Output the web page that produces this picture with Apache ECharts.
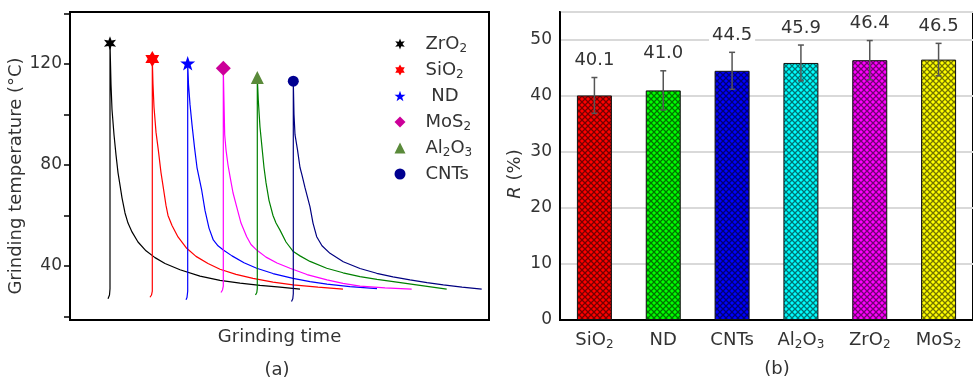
<!DOCTYPE html>
<html><head><meta charset="utf-8">
<script src="https://cdn.jsdelivr.net/npm/echarts@6/dist/echarts.min.js"></script>
<style>html,body{margin:0;padding:0;background:#fff}#c{width:973px;height:383px}</style>
</head><body><div id="c"></div>
<script>
// ---------- Panel (a): grinding temperature vs grinding time (time in arbitrary units) ----------
const curveNames = ['ZrO2', 'SiO2', 'ND', 'MoS2', 'Al2O3', 'CNTs'];
const tZrO2 = [[38,27],[39.5,28.5],[40,31],[40,128.2],[41,112],[42,102],[44,92],[46,84],[48,77],[50,72],[52,67],[55,61],[58,57],[62,53.5],[68,49.5],[76,46],[85,43.3],[95,41],[110,38.5],[130,36],[150,34.3],[170,33.2],[190,32.3],[210,31.6],[230,30.8]];
const tSiO2 = [[80,27.6],[81.5,28.5],[82.3,30],[82.3,122],[83,112],[84,103],[86,93],[88.3,86],[91,77],[93.3,71],[96,64],[98,60],[102,56],[108,51.5],[116.7,47],[126,43.8],[138,41],[150,38.7],[166,36.7],[183,35.1],[203,33.6],[223,32.5],[248,31.6],[273,30.8]];
const tND = [[116,26.6],[117,27.5],[117.7,30],[117.7,120.3],[118.5,112],[120,104],[122,96],[124.5,87],[127,79],[131.7,70],[135,62],[139,55],[143.3,50.3],[148,48],[153.3,46.3],[162,44],[174,41.3],[186.7,39.1],[203,37],[223,35.1],[240,33.8],[257,32.8],[280,31.8],[307,31]];
const tMoS2 = [[151,29.5],[152.5,30.5],[153.3,32],[153.3,118.3],[154,105],[154.7,92],[156,86],[158,80],[160,75.5],[163,69],[166.7,63.4],[171,57],[176.7,51.6],[181,48.5],[186.7,46.3],[196,43.5],[207,41.2],[220,39.1],[237,36.6],[257,34.5],[273,33.1],[290,32],[315,31.3],[341.7,30.8]];
const tAl2O3 = [[185.5,28.5],[186.8,29.5],[187.3,31],[187.3,114.7],[188.3,105.6],[190,95],[192,87],[194,79],[196,73],[199,66],[203,60],[206,57],[210,54.2],[216,49.5],[223.3,45.7],[230,44],[240,41.8],[256.7,39.1],[273,37.3],[290,35.8],[307,34.7],[323.3,33.8],[350,32.3],[376.7,30.8]];
const tCNTs = [[221.5,25.9],[222.8,27],[223.3,29],[223.3,113.2],[224,100],[225,92],[227.5,86],[230,79],[232,76],[235,71],[240,63.4],[243,57],[246.7,51.6],[252,48],[260,45],[273.3,41.7],[290,39],[306.7,37.1],[323,35.7],[340,34.5],[357,33.4],[373.3,32.5],[392,31.6],[411.7,30.8]];
const curveData = [tZrO2, tSiO2, tND, tMoS2, tAl2O3, tCNTs];
const tempTicks = [20, 40, 60, 80, 100, 120, 140];
const tempLabels = [40, 80, 120];

// ---------- Panel (b): R (%) bars ----------
const barCats = ['SiO2', 'ND', 'CNTs', 'Al2O3', 'ZrO2', 'MoS2'];
const barVals = [40.1, 41.0, 44.5, 45.9, 46.4, 46.5];
const barErr = [3.2, 3.5, 3.3, 3.2, 3.5, 2.9];

// ---------- styles ----------
const FONT = 'DejaVu Sans';
const TXT = '#333';
const lineColors = ['#000000', '#ff0000', '#0000ff', '#ff00ff', '#008000', '#000080'];
const markColors = ['#000000', '#ff0000', '#0000ff', '#cc0099', '#5a8a3a', '#000090'];
const barColors = ['#ff0000', '#00ff00', '#0000ff', '#00ffff', '#ff00ff', '#ffff00'];

function starPath(n, rin) {
  let p = [];
  for (let k = 0; k < 2 * n; k++) {
    const a = -Math.PI / 2 + k * Math.PI / n;
    const r = k % 2 ? rin : 1;
    p.push((k ? 'L' : 'M') + (r * Math.cos(a)).toFixed(4) + ' ' + (r * Math.sin(a)).toFixed(4));
  }
  return 'path://' + p.join(' ') + ' Z';
}
const markSymbols = [starPath(6, 0.45), starPath(6, 0.58), starPath(5, 0.4), 'diamond', 'triangle', 'circle'];
const markSizes = [14, 16, 15, 15, 13, 11];

function hatch(color) {
  const c = document.createElement('canvas');
  c.width = c.height = 6;
  const g = c.getContext('2d');
  g.fillStyle = color; g.fillRect(0, 0, 6, 6);
  g.strokeStyle = 'rgba(0,0,0,0.55)'; g.lineWidth = 1.3;
  g.beginPath(); g.moveTo(-1, -1); g.lineTo(7, 7); g.moveTo(7, -1); g.lineTo(-1, 7); g.stroke();
  return { image: c, repeat: 'repeat' };
}
const subFmt = s => s.replace(/(\d)/g, '{s|$1}');
const richSub = { s: { fontSize: 12, fontFamily: FONT, color: TXT, lineHeight: 12, verticalAlign: 'bottom' } };

const series = [];
curveData.forEach((d, i) => {
  series.push({
    name: curveNames[i] + '_curve', type: 'line', xAxisIndex: 0, yAxisIndex: 0,
    data: d, symbol: 'none', showSymbol: false,
    lineStyle: { color: lineColors[i], width: 1.2 }, z: 2, silent: true
  });
});
curveData.forEach((d, i) => {
  let peak = d[0];
  d.forEach(p => { if (p[1] > peak[1]) peak = p; });
  series.push({
    name: curveNames[i], type: 'scatter', xAxisIndex: 0, yAxisIndex: 0,
    data: [peak], symbol: markSymbols[i], symbolSize: markSizes[i], symbolKeepAspect: true,
    itemStyle: { color: markColors[i], opacity: 1 }, z: 4
  });
});
series.push({
  type: 'bar', xAxisIndex: 1, yAxisIndex: 1, barWidth: 35,
  data: barVals.map((v, i) => ({ value: v, itemStyle: { color: hatch(barColors[i]), borderColor: '#111', borderWidth: 1 } })),
  z: 2
});
series.push({
  type: 'custom', xAxisIndex: 1, yAxisIndex: 1, z: 5,
  data: barVals.map((v, i) => [i, v, barErr[i]]),
  renderItem: (params, api) => {
    const i = api.value(0), v = api.value(1), e = api.value(2);
    const top = api.coord([i, v + e]), bot = api.coord([i, v - e]);
    const x = top[0];
    const st = { stroke: '#555', lineWidth: 1.5 };
    return {
      type: 'group', children: [
        { type: 'line', shape: { x1: x, y1: top[1], x2: x, y2: bot[1] }, style: st },
        { type: 'line', shape: { x1: x - 3, y1: top[1], x2: x + 3, y2: top[1] }, style: st },
        { type: 'line', shape: { x1: x - 3, y1: bot[1], x2: x + 3, y2: bot[1] }, style: st },
        { type: 'text', x: x, y: top[1] - 8, style: {
          text: v.toFixed(1), align: 'center', verticalAlign: 'bottom',
          fontSize: 18, fontFamily: FONT, fill: TXT, backgroundColor: '#fff', padding: [0, 3, 0, 3] } }
      ]
    };
  }
});

const chart = echarts.init(document.getElementById('c'), null, { renderer: 'canvas' });
chart.setOption({
  animation: false,
  textStyle: { fontFamily: FONT },
  grid: [
    { left: 70, top: 12, width: 419, height: 308, show: true, borderColor: '#000', borderWidth: 2 },
    { left: 560, top: 12, width: 420, height: 308, show: true, borderColor: '#000', borderWidth: 2 }
  ],
  xAxis: [
    { type: 'value', gridIndex: 0, min: 0, max: 419,
      axisLine: { show: true, lineStyle: { color: '#000', width: 2 } },
      axisTick: { show: false }, axisLabel: { show: false }, splitLine: { show: false },
      name: 'Grinding time', nameLocation: 'middle', nameGap: 8,
      nameTextStyle: { fontSize: 18, fontFamily: FONT, color: TXT } },
    { type: 'category', gridIndex: 1, data: barCats,
      axisLine: { show: true, lineStyle: { color: '#000', width: 2 } },
      axisTick: { show: false },
      axisLabel: { interval: 0, hideOverlap: false, margin: 9, fontSize: 18, fontFamily: FONT, color: TXT, lineHeight: 22,
        formatter: subFmt, rich: richSub } }
  ],
  yAxis: [
    { type: 'value', gridIndex: 0, min: 18.6, max: 140.6,
      axisLine: { show: true, lineStyle: { color: '#000', width: 2 } },
      axisTick: { show: true, inside: false, length: 6, lineStyle: { color: '#000', width: 1.5 }, customValues: tempTicks },
      axisLabel: { margin: 8, fontSize: 17, fontFamily: FONT, color: TXT, customValues: tempLabels },
      splitLine: { show: false },
      name: 'Grinding temperature (°C)', nameLocation: 'middle', nameGap: 37,
      nameTextStyle: { fontSize: 18, fontFamily: FONT, color: TXT, padding: [0, 20, 0, 0] } },
    { type: 'value', gridIndex: 1, min: 0, max: 55, interval: 10,
      axisLine: { show: true, lineStyle: { color: '#000', width: 2 } },
      axisTick: { show: false },
      axisLabel: { margin: 8, fontSize: 17, fontFamily: FONT, color: TXT,
        formatter: v => (v > 50 ? '' : String(v)) },
      splitLine: { show: true, lineStyle: { color: '#d9d9d9', width: 2 } },
      name: '{i|R} (%)', nameLocation: 'middle', nameGap: 36,
      nameTextStyle: { fontSize: 18, fontFamily: FONT, color: TXT, padding: [0, 16, 0, 0],
        rich: { i: { fontStyle: 'italic', fontSize: 18, fontFamily: FONT, color: TXT } } } }
  ],
  legend: {
    data: curveNames.slice(),
    orient: 'vertical', left: 389.5, top: 28, itemWidth: 11, itemHeight: 11, itemGap: 4,
    formatter: n => '{g| }' + (n === 'ND' ? ' ' : '') + subFmt(n),
    textStyle: { fontSize: 18, fontFamily: FONT, color: TXT, lineHeight: 22,
      rich: Object.assign({ g: { width: 15, fontSize: 18 } }, richSub) },
    selectedMode: false
  },
  graphic: [
    { type: 'text', x: 277, y: 370, style: { text: '(a)', align: 'center', verticalAlign: 'middle', fontSize: 18, fontFamily: FONT, fill: TXT } },
    { type: 'text', x: 777, y: 369, style: { text: '(b)', align: 'center', verticalAlign: 'middle', fontSize: 18, fontFamily: FONT, fill: TXT } }
  ],
  series: series
});
</script>
</body></html>
